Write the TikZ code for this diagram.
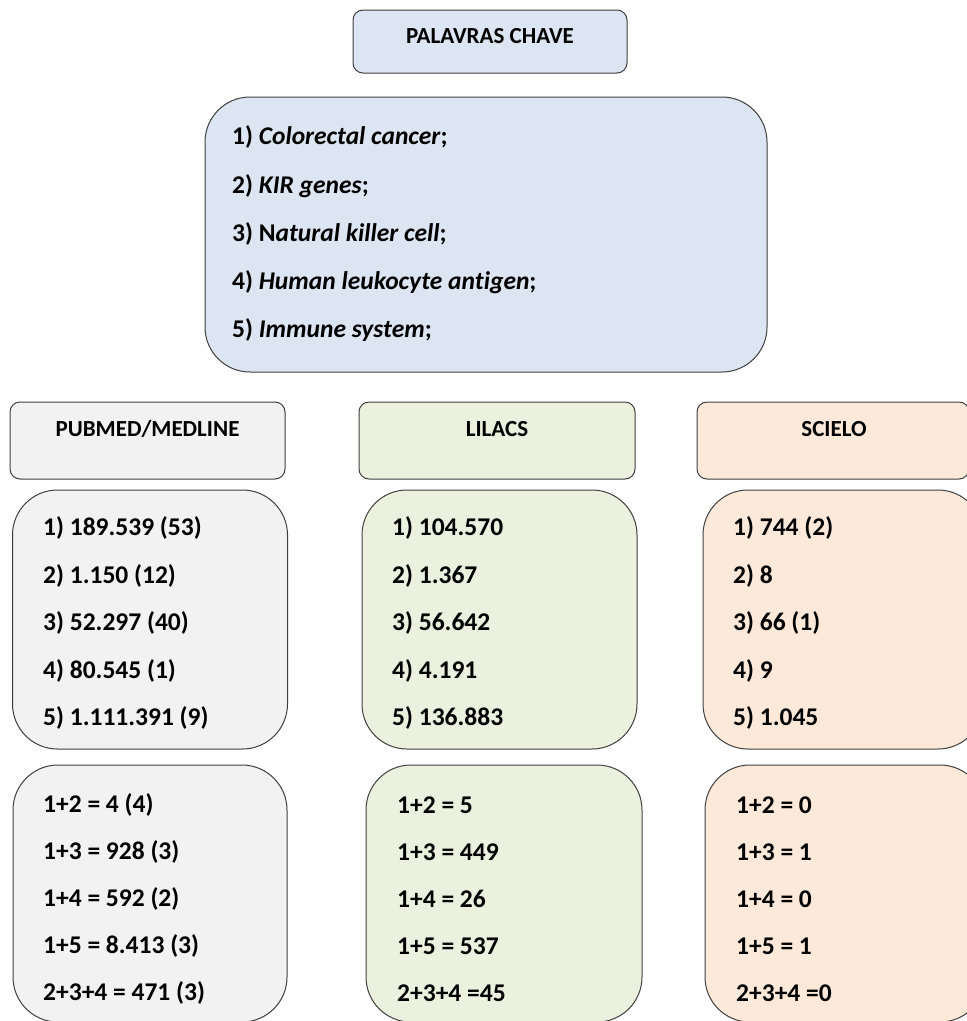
\documentclass[tikz,border=0pt]{standalone}
\usepackage{fontspec}
\setmainfont[Ligatures=NoCommon]{Carlito}
\definecolor{linegray}{HTML}{3F3F3F}
\definecolor{bluefill}{HTML}{DCE6F2}
\definecolor{grayfill}{HTML}{F2F2F2}
\definecolor{greenfill}{HTML}{EBF1DE}
\definecolor{orangefill}{HTML}{FDE9D9}
\tikzset{
  box/.style={draw=linegray, line width=1pt, rectangle, inner sep=0pt, outer sep=0pt},
  hdrbox/.style={box, rounded corners=10pt},
  bigbox/.style={box, rounded corners=45pt},
  ttl/.style={font=\fontsize{23}{27}\selectfont\bfseries, inner sep=0pt},
  itm/.style={font=\fontsize{25.5}{30}\selectfont\bfseries, anchor=west, inner sep=0pt},
}
\begin{document}
\begin{tikzpicture}[x=1pt,y=-1pt]
\useasboundingbox (0,0) rectangle (967,1021);
\clip (0,0) rectangle (967,1021);
\fill[white] (0,0) rectangle (967,1021);
% top title
\node[hdrbox, fill=bluefill, minimum width=274pt, minimum height=63pt] (kwh) at (490,41.5) {};
\node[ttl] (kwht) at (490,36) {PALAVRAS CHAVE};
% keyword list box
\node[bigbox, fill=bluefill, minimum width=562pt, minimum height=275pt] (kw) at (486,234.5) {};
\node[itm] (k1) at (232,137) {1) \textit{Colorectal cancer};};
\node[itm] (k2) at (232,186) {2) \textit{KIR genes};};
\node[itm] (k3) at (232,234) {3) N\textit{atural killer cell};};
\node[itm] (k4) at (232,282) {4) \textit{Human leukocyte antigen};};
\node[itm] (k5) at (232,330) {5) \textit{Immune system};};
% headers
\node[hdrbox, fill=grayfill, minimum width=275pt, minimum height=77pt] (pubh) at (147.5,440.5) {};
\node[ttl] (pubht) at (147.5,429) {PUBMED/MEDLINE};
\node[hdrbox, fill=greenfill, minimum width=276pt, minimum height=77pt] (lilh) at (497,440.5) {};
\node[ttl] (lilht) at (497,429) {LILACS};
\node[hdrbox, fill=orangefill, minimum width=272pt, minimum height=77pt] (sch) at (833,440.5) {};
\node[ttl] (scht) at (834,429) {SCIELO};
% row 2 boxes
\node[bigbox, fill=grayfill, minimum width=275pt, minimum height=259pt] (pub1) at (150,619.5) {};
\node[bigbox, fill=greenfill, minimum width=275pt, minimum height=259pt] (lil1) at (499.5,619.5) {};
\node[bigbox, fill=orangefill, minimum width=280pt, minimum height=259pt] (sc1) at (843,619.5) {};
% row 3 boxes
\node[bigbox, fill=grayfill, minimum width=274pt, minimum height=257pt] (pub2) at (150,893.5) {};
\node[bigbox, fill=greenfill, minimum width=276pt, minimum height=257pt] (lil2) at (504,893.5) {};
\node[bigbox, fill=orangefill, minimum width=280pt, minimum height=257pt] (sc2) at (845,893.5) {};
% row 2 texts
\node[itm] (p11) at (43,528) {1) 189.539 (53)};
\node[itm] (p12) at (43,576) {2) 1.150 (12)};
\node[itm] (p13) at (43,623) {3) 52.297 (40)};
\node[itm] (p14) at (43,671) {4) 80.545 (1)};
\node[itm] (p15) at (43,718) {5) 1.111.391 (9)};
\node[itm] (l11) at (392,528) {1) 104.570};
\node[itm] (l12) at (392,576) {2) 1.367};
\node[itm] (l13) at (392,623) {3) 56.642};
\node[itm] (l14) at (392,671) {4) 4.191};
\node[itm] (l15) at (392,718) {5) 136.883};
\node[itm] (s11) at (733,528) {1) 744 (2)};
\node[itm] (s12) at (733,576) {2) 8};
\node[itm] (s13) at (733,623) {3) 66 (1)};
\node[itm] (s14) at (733,671) {4) 9};
\node[itm] (s15) at (733,718) {5) 1.045};
% row 3 texts
\node[itm] (p21) at (43,805) {1+2 = 4 (4)};
\node[itm] (p22) at (43,852) {1+3 = 928 (3)};
\node[itm] (p23) at (43,899) {1+4 = 592 (2)};
\node[itm] (p24) at (43,946) {1+5 = 8.413 (3)};
\node[itm] (p25) at (43,993) {2+3+4 = 471 (3)};
\node[itm] (l21) at (397,805) {1+2 = 5};
\node[itm] (l22) at (397,852) {1+3 = 449};
\node[itm] (l23) at (397,899) {1+4 = 26};
\node[itm] (l24) at (397,946) {1+5 = 537};
\node[itm] (l25) at (397,993) {2+3+4 =45};
\node[itm] (s21) at (736,805) {1+2 = 0};
\node[itm] (s22) at (736,852) {1+3 = 1};
\node[itm] (s23) at (736,899) {1+4 = 0};
\node[itm] (s24) at (736,946) {1+5 = 1};
\node[itm] (s25) at (736,993) {2+3+4 =0};
\end{tikzpicture}
\end{document}
